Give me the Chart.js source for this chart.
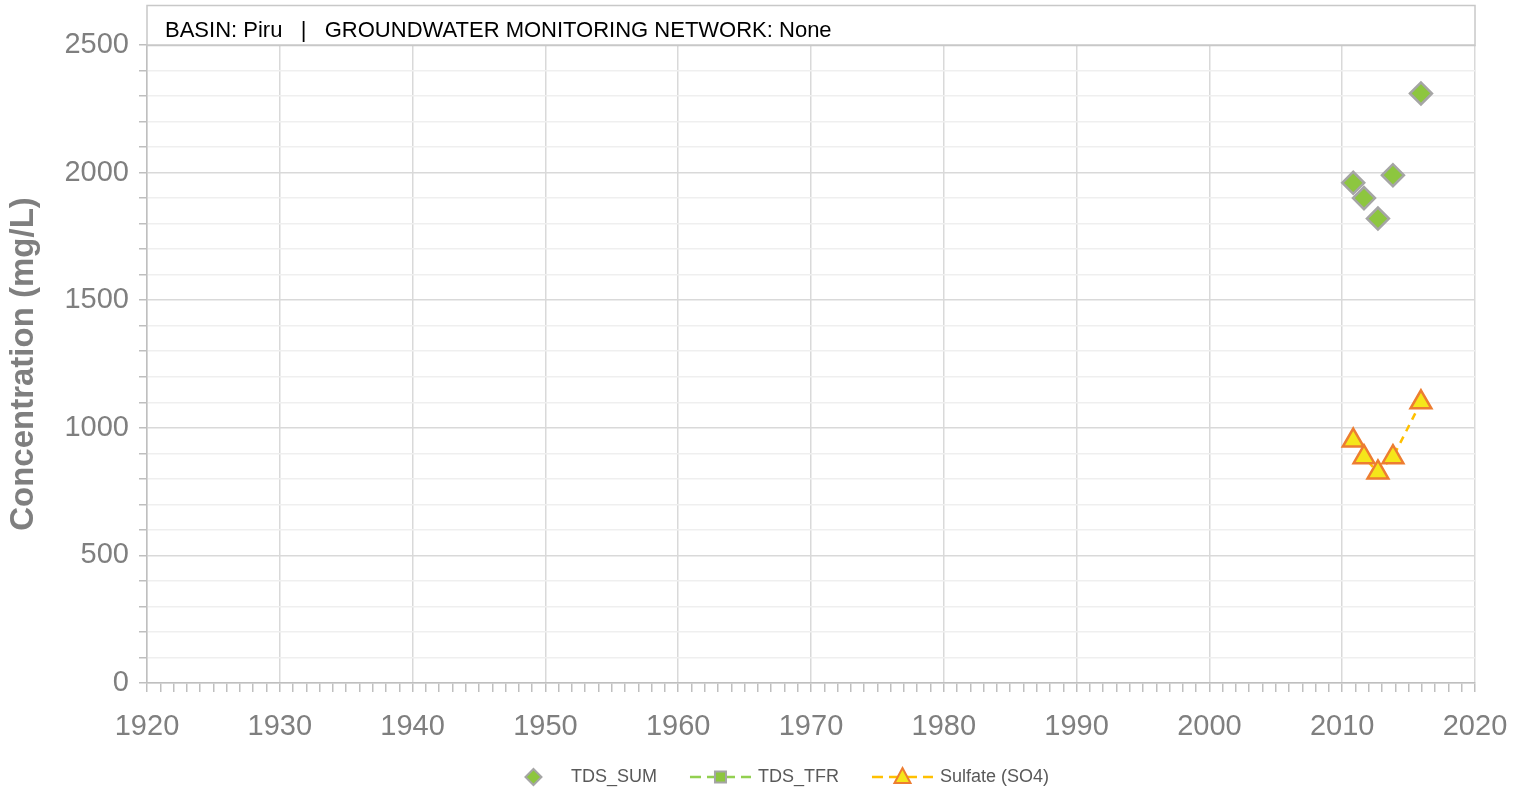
<!DOCTYPE html>
<html>
<head>
<meta charset="utf-8">
<script src="https://cdn.jsdelivr.net/npm/chart.js@4.4.1/dist/chart.umd.min.js"></script>
<style>
  html, body { margin: 0; padding: 0; background: #fff; }
</style>
</head>
<body>
<canvas id="myChart" width="1528" height="789"></canvas>
<script>
// sample dates as decimal years
const sampleYears = [2010.83, 2011.64, 2012.69, 2013.82, 2015.93];
const tdsSum = [1960, 1900, 1820, 1990, 2310];
const tdsTfr = [];
const sulfate = [950, 885, 825, 885, 1100];

const seriesNames = ['TDS_SUM', 'TDS_TFR', 'Sulfate (SO4)'];
const yTitle = 'Concentration (mg/L)';
const headerText = 'BASIN: Piru   |   GROUNDWATER MONITORING NETWORK: None';
const xRange = [1920, 2020];
const yRange = [0, 2500];

const toPoints = vals => vals.map((v, i) => ({x: sampleYears[i], y: v}));

const GRAY_TXT = '#7f7f7f';
const FONT = 'Liberation Sans';

// header box with basin text
const headerBox = {
    id: 'headerBox',
    beforeDatasetsDraw(chart) {
        const {ctx, chartArea} = chart;
        ctx.save();
        ctx.strokeStyle = '#c8c8c8';
        ctx.lineWidth = 1.5;
        ctx.strokeRect(chartArea.left, 5.5, chartArea.right - chartArea.left, chartArea.top - 5);
        ctx.fillStyle = '#000';
        ctx.font = '22px "' + FONT + '"';
        ctx.textBaseline = 'middle';
        ctx.fillText(headerText, chartArea.left + 18, 31);
        ctx.restore();
    }
};

function drawMarker(ctx, kind, x, y) {
    ctx.save();
    ctx.beginPath();
    if (kind === 'diamond') {
        ctx.moveTo(x, y - 8); ctx.lineTo(x + 8, y); ctx.lineTo(x, y + 8); ctx.lineTo(x - 8, y);
        ctx.closePath();
        ctx.fillStyle = '#8dc63f'; ctx.strokeStyle = '#a5a5a5';
    } else if (kind === 'square') {
        ctx.rect(x - 5.5, y - 5.5, 11, 11);
        ctx.fillStyle = '#8dc63f'; ctx.strokeStyle = '#a5a5a5';
    } else {
        ctx.moveTo(x, y - 9); ctx.lineTo(x + 8, y + 6); ctx.lineTo(x - 8, y + 6);
        ctx.closePath();
        ctx.fillStyle = '#f5e61a'; ctx.strokeStyle = '#ed7d31';
    }
    ctx.lineWidth = 2;
    ctx.fill();
    ctx.stroke();
    ctx.restore();
}

// excel style legend at the bottom
const bottomLegend = {
    id: 'bottomLegend',
    afterDraw(chart) {
        const ctx = chart.ctx;
        const items = [
            {name: seriesNames[0], marker: 'diamond', line: null},
            {name: seriesNames[1], marker: 'square', line: '#92d050'},
            {name: seriesNames[2], marker: 'triangle', line: '#ffc000'}
        ];
        const symW = 61, gap = 7, itemGap = 33;
        ctx.save();
        ctx.font = '18px "' + FONT + '"';
        let total = 0;
        items.forEach((it, i) => {
            it.w = ctx.measureText(it.name).width;
            total += symW + gap + it.w + (i ? itemGap : 0);
        });
        let x = chart.width / 2 - total / 2 + 12;
        const y = 777;
        items.forEach(it => {
            if (it.line) {
                ctx.save();
                ctx.strokeStyle = it.line;
                ctx.lineWidth = 2.5;
                ctx.setLineDash([11, 6]);
                ctx.beginPath();
                ctx.moveTo(x, y); ctx.lineTo(x + symW, y);
                ctx.stroke();
                ctx.restore();
            }
            drawMarker(ctx, it.marker, x + symW / 2, y);
            ctx.fillStyle = '#595959';
            ctx.textBaseline = 'middle';
            ctx.fillText(it.name, x + symW + gap, y);
            x += symW + gap + it.w + itemGap;
        });
        ctx.restore();
    }
};

const ctx = document.getElementById('myChart').getContext('2d');
const myChart = new Chart(ctx, {
    type: 'scatter',
    data: {
        datasets: [
            {
                label: seriesNames[2],
                data: toPoints(sulfate),
                showLine: true,
                borderColor: '#ffc000',
                borderWidth: 2.5,
                borderDash: [7, 6],
                pointStyle: 'triangle',
                pointRadius: 12,
                pointBackgroundColor: '#f5e61a',
                pointBorderColor: '#ed7d31',
                pointBorderWidth: 2.5,
                order: 2
            },
            {
                label: seriesNames[1],
                data: toPoints(tdsTfr),
                showLine: true,
                borderColor: '#92d050',
                borderDash: [7, 6],
                pointStyle: 'rect',
                backgroundColor: '#8dc63f',
                order: 1
            },
            {
                label: seriesNames[0],
                data: toPoints(tdsSum),
                showLine: false,
                pointStyle: 'rectRot',
                pointRadius: 11,
                pointBackgroundColor: '#8dc63f',
                pointBorderColor: '#a5a5a5',
                pointBorderWidth: 2.5,
                order: 0
            }
        ]
    },
    options: {
        responsive: false,
        animation: false,
        layout: {
            padding: {top: 45, right: 53, bottom: 50, left: 0}
        },
        plugins: {
            legend: {display: false},
            tooltip: {enabled: false}
        },
        scales: {
            x: {
                type: 'linear',
                min: xRange[0],
                max: xRange[1],
                ticks: {
                    stepSize: 1,
                    autoSkip: false,
                    maxRotation: 0,
                    minRotation: 0,
                    color: GRAY_TXT,
                    padding: 18,
                    font: {family: FONT, size: 29},
                    callback: v => (Math.round(v) % 10 === 0 ? Math.round(v) : '')
                },
                grid: {
                    color: c => (c.tick && Math.round(c.tick.value) % 10 === 0 ? '#d9d9d9' : 'rgba(0,0,0,0)'),
                    tickColor: '#bfbfbf',
                    lineWidth: 1.5,
                    tickLength: 9
                },
                border: {color: '#bfbfbf', width: 1.5},
                afterFit: s => { s.height = 56; }
            },
            y: {
                min: yRange[0],
                max: yRange[1],
                ticks: {
                    stepSize: 100,
                    autoSkip: false,
                    color: GRAY_TXT,
                    padding: 10,
                    font: {family: FONT, size: 29},
                    callback: v => (v % 500 === 0 ? v : '')
                },
                grid: {
                    color: c => (c.tick && c.tick.value % 500 === 0 ? '#d9d9d9' : '#efefef'),
                    tickColor: '#bfbfbf',
                    lineWidth: 1.5,
                    tickLength: 8
                },
                border: {color: '#bfbfbf', width: 1.5},
                title: {
                    display: true,
                    text: yTitle,
                    color: GRAY_TXT,
                    padding: 4,
                    font: {family: FONT, size: 33, weight: 'bold'}
                },
                afterFit: s => { s.width = 147; }
            }
        }
    },
    plugins: [headerBox, bottomLegend]
});
</script>
</body>
</html>
